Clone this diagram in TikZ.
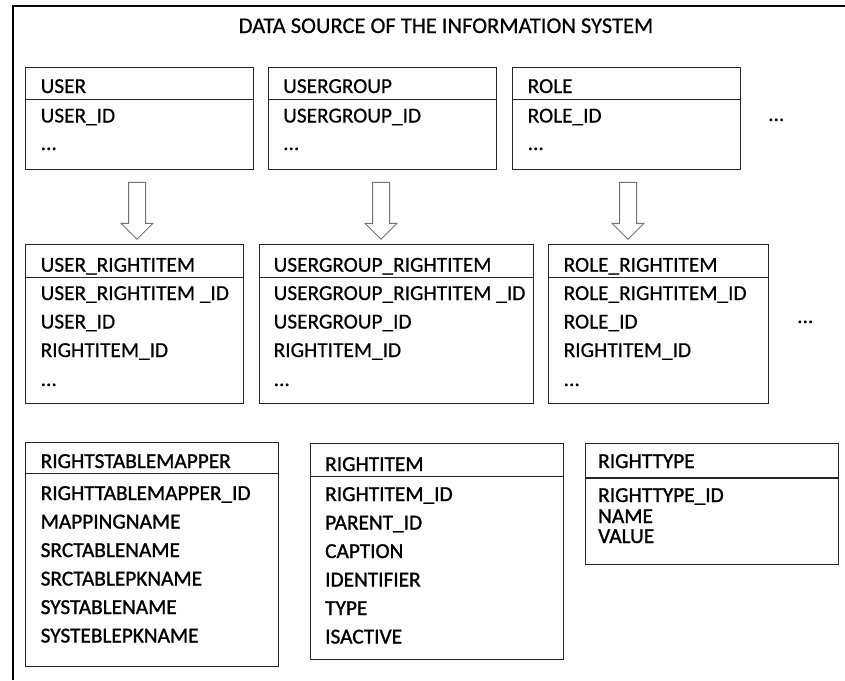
\documentclass[tikz,border=0pt]{standalone}
\usepackage{fontspec}
\setmainfont{Carlito}
\newfontfamily\dbfont{Carlito}[FakeBold=0.6]
\newfontfamily\dbheavy{Carlito}[FakeBold=1.2]
\usetikzlibrary{shapes.arrows}

\begin{document}
\begin{tikzpicture}[x=1pt, y=-1pt,
    dbtable/.style={rectangle, draw=black!85, line width=1.1pt, anchor=north west, inner sep=0pt},
    dbrule/.style={draw=black!85, line width=1.1pt},
    field/.style={anchor=base west, inner sep=0pt, font=\dbfont\fontsize{21.3pt}{25pt}\selectfont},
    keyfield/.style={field, font=\dbheavy\fontsize{21.3pt}{25pt}\selectfont},
    title/.style={anchor=base, inner sep=0pt, font=\dbfont\fontsize{22.5pt}{26pt}\selectfont},
    flow/.style={single arrow, draw=black!55, line width=1pt, fill=white, minimum height=57pt, single arrow head extend=7.5pt, inner xsep=0pt, inner ysep=8pt, rotate=-90}
]
\useasboundingbox (0,0) rectangle (845,680);

% frame round the whole data source
\draw[line width=1.5pt] (13,680) -- (13,6) -- (845,6);
\node[title] (caption) at (446,33) {DATA SOURCE OF THE INFORMATION SYSTEM};

% source tables
\node[dbtable, minimum width=228pt, minimum height=102.6pt] (user) at (25,66.7) {};
\node[dbtable, minimum width=228.3pt, minimum height=102.6pt] (usergroup) at (267.7,66.7) {};
\node[dbtable, minimum width=228.3pt, minimum height=102.6pt] (role) at (511.7,66.7) {};
\draw[dbrule] (user.west |- 0,99.3) -- (user.east |- 0,99.3);
\draw[dbrule] (usergroup.west |- 0,99.3) -- (usergroup.east |- 0,99.3);
\draw[dbrule] (role.west |- 0,99.3) -- (role.east |- 0,99.3);

\node[field] (user-h) at (40.5,93) {USER};
\node[field] (user-1) at (40.5,122.5) {USER\_ID};
\node[field] (user-2) at (40.5,150) {...};
\node[field] (usergroup-h) at (283,93) {USERGROUP};
\node[field] (usergroup-1) at (283,122.5) {USERGROUP\_ID};
\node[field] (usergroup-2) at (283,150) {...};
\node[field] (role-h) at (527.5,93) {ROLE};
\node[field] (role-1) at (527.5,122.5) {ROLE\_ID};
\node[field] (role-2) at (527.5,150) {...};
\node[field] (more-1) at (768,121) {...};

% mapping to right items
\node[flow] (user-flow) at (137,206.5) {};
\node[flow] (usergroup-flow) at (381,206.5) {};
\node[flow] (role-flow) at (628,206.5) {};

\node[dbtable, minimum width=217.2pt, minimum height=158.7pt] (userri) at (25.3,244) {};
\node[dbtable, minimum width=274pt, minimum height=158.7pt] (usergroupri) at (259,244) {};
\node[dbtable, minimum width=219.7pt, minimum height=158.7pt] (roleri) at (548.3,244) {};
\draw[dbrule] (userri.west |- 0,277.7) -- (userri.east |- 0,277.7);
\draw[dbrule] (usergroupri.west |- 0,277.7) -- (usergroupri.east |- 0,277.7);
\draw[dbrule] (roleri.west |- 0,277.7) -- (roleri.east |- 0,277.7);

\node[field] (userri-h) at (40.5,271.7) {USER\_RIGHTITEM};
\node[field] (userri-1) at (40.5,300) {USER\_RIGHTITEM \_ID};
\node[field] (userri-2) at (40.5,328.5) {USER\_ID};
\node[field] (userri-3) at (40.5,357) {RIGHTITEM\_ID};
\node[field] (userri-4) at (40.5,386) {...};
\node[field] (usergroupri-h) at (273.5,271.7) {USERGROUP\_RIGHTITEM};
\node[field] (usergroupri-1) at (273.5,300) {USERGROUP\_RIGHTITEM \_ID};
\node[field] (usergroupri-2) at (273.5,328.5) {USERGROUP\_ID};
\node[field] (usergroupri-3) at (273.5,357) {RIGHTITEM\_ID};
\node[field] (usergroupri-4) at (273.5,386) {...};
\node[field] (roleri-h) at (563.5,271.7) {ROLE\_RIGHTITEM};
\node[field] (roleri-1) at (563.5,300) {ROLE\_RIGHTITEM\_ID};
\node[field] (roleri-2) at (563.5,328.5) {ROLE\_ID};
\node[field] (roleri-3) at (563.5,357) {RIGHTITEM\_ID};
\node[field] (roleri-4) at (563.5,386) {...};
\node[field] (more-2) at (797,323) {...};

% rights tables
\node[dbtable, minimum width=252.2pt, minimum height=223.7pt] (mapper) at (25.3,442.3) {};
\node[dbtable, minimum width=253pt, minimum height=215.7pt] (rightitem) at (310,443.3) {};
\node[dbtable, minimum width=253.2pt, minimum height=121pt] (righttype) at (584.6,443.3) {};
\draw[dbrule] (mapper.west |- 0,473.3) -- (mapper.east |- 0,473.3);
\draw[dbrule] (rightitem.west |- 0,476.7) -- (rightitem.east |- 0,476.7);
\draw[dbrule] (righttype.west |- 0,478) -- (righttype.east |- 0,478);

\node[keyfield] (mapper-h) at (40.5,468) {RIGHTSTABLEMAPPER};
\node[keyfield] (mapper-1) at (40.5,500) {RIGHTTABLEMAPPER\_ID};
\node[keyfield] (mapper-2) at (40.5,528.5) {MAPPINGNAME};
\node[keyfield] (mapper-3) at (40.5,557) {SRCTABLENAME};
\node[keyfield] (mapper-4) at (40.5,585.5) {SRCTABLEPKNAME};
\node[keyfield] (mapper-5) at (40.5,614) {SYSTABLENAME};
\node[keyfield] (mapper-6) at (40.5,642.5) {SYSTEBLEPKNAME};
\node[keyfield] (rightitem-h) at (325,471) {RIGHTITEM};
\node[keyfield] (rightitem-1) at (325,501) {RIGHTITEM\_ID};
\node[keyfield] (rightitem-2) at (325,529.5) {PARENT\_ID};
\node[keyfield] (rightitem-3) at (325,558) {CAPTION};
\node[keyfield] (rightitem-4) at (325,586.5) {IDENTIFIER};
\node[keyfield] (rightitem-5) at (325,615) {TYPE};
\node[keyfield] (rightitem-6) at (325,643.5) {ISACTIVE};
\node[keyfield] (righttype-h) at (598,468) {RIGHTTYPE};
\node[keyfield] (righttype-1) at (598,502) {RIGHTTYPE\_ID};
\node[keyfield] (righttype-2) at (598,523) {NAME};
\node[keyfield] (righttype-3) at (598,543) {VALUE};

\end{tikzpicture}
\end{document}
